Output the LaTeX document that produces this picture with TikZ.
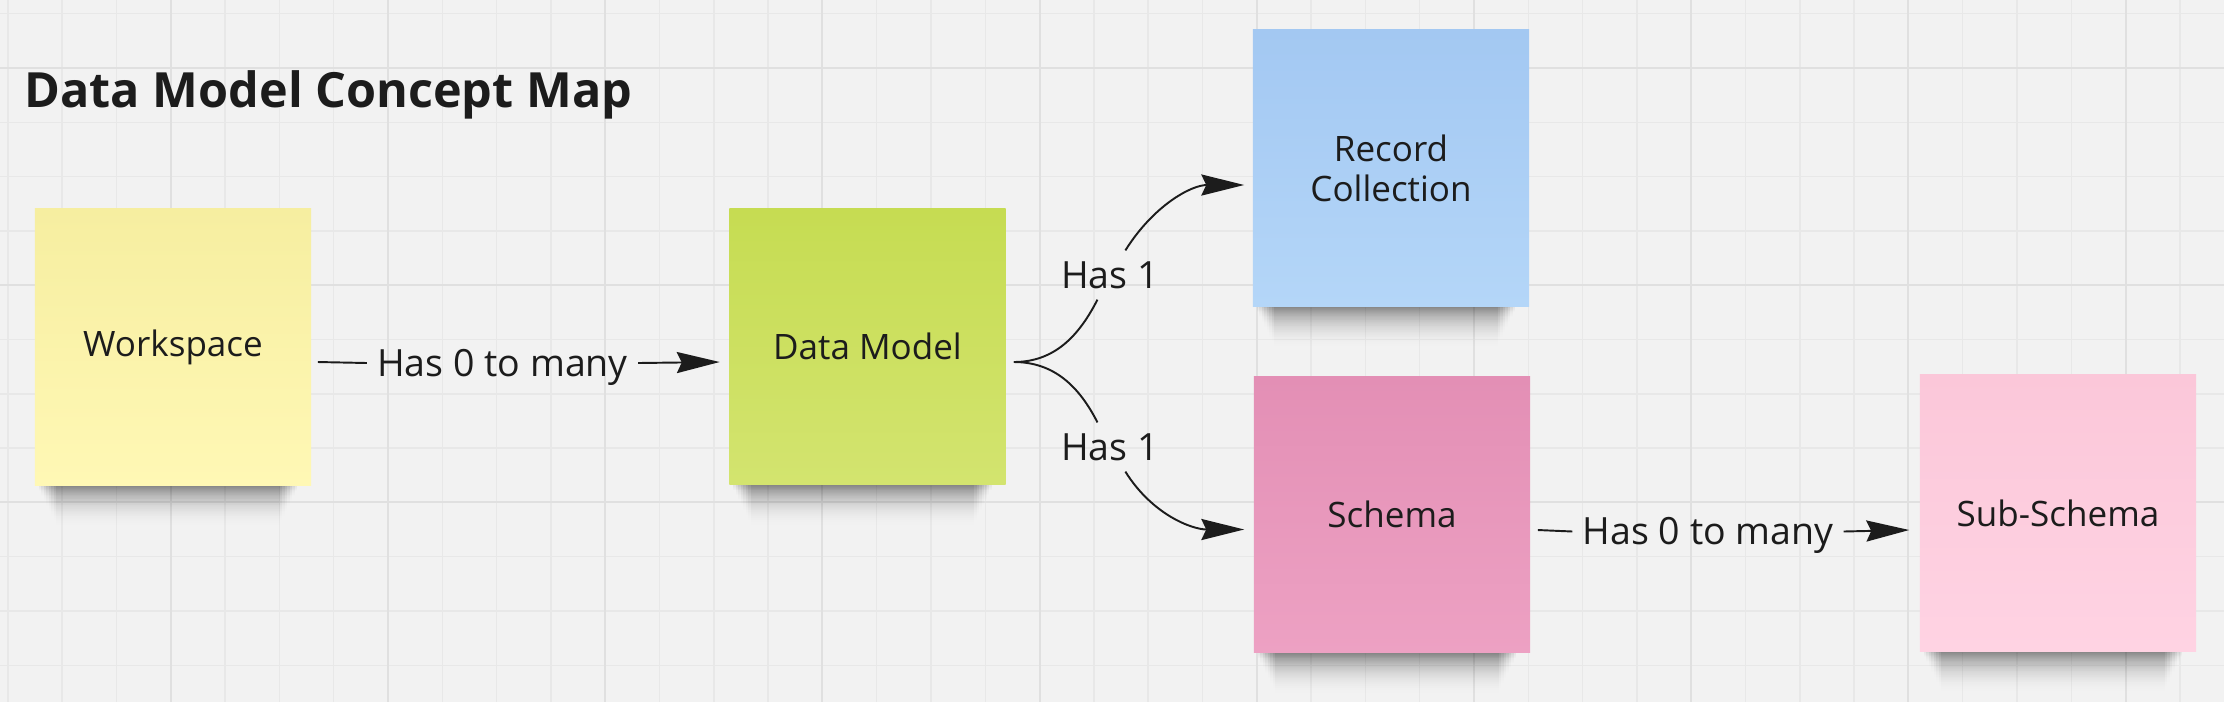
\documentclass[tikz,border=0pt]{standalone}
\usepackage{fontspec}
\setmainfont{Open Sans}
\usepackage{tikz}
\usetikzlibrary{arrows.meta, calc, positioning, fadings}
\definecolor{boardBg}{HTML}{F2F2F2}
\definecolor{gridMinor}{HTML}{E8E8E8}
\definecolor{gridMajor}{HTML}{E0E0E0}
\definecolor{inkBlack}{HTML}{1C1C1C}
\definecolor{yellowTop}{HTML}{F6EEA0}
\definecolor{yellowBot}{HTML}{FFF8B5}
\definecolor{limeTop}{HTML}{C6DC52}
\definecolor{limeBot}{HTML}{D3E46F}
\definecolor{blueTop}{HTML}{A3C8F2}
\definecolor{blueBot}{HTML}{B4D6F8}
\definecolor{pinkTop}{HTML}{E38FB5}
\definecolor{pinkBot}{HTML}{EDA1C3}
\definecolor{roseTop}{HTML}{FBC7D9}
\definecolor{roseBot}{HTML}{FFD3E3}
\pgfdeclarelayer{back}
\pgfsetlayers{back,main}

\begin{document}
\begin{tikzpicture}[x=0.01cm, y=-0.01cm,
    sticky/.style={minimum width=2.76cm, minimum height=2.76cm, inner sep=0pt, align=center,
      text=inkBlack, font=\fontsize{9.96pt}{11.4pt}\selectfont},
    lbl/.style={text=inkBlack, font=\fontsize{10.67pt}{12pt}\selectfont,
      text height=7.6pt, text depth=0pt, inner xsep=2.7pt, inner ysep=3pt},
    link/.style={line width=0.55pt, inkBlack},
    arr/.style={link, -{Stealth[length=12.2pt, width=6pt, inset=1.4pt]}}]
    \useasboundingbox (0,0) rectangle (2224,702);

    % board with its grid
    \begin{pgfonlayer}{back}
        \fill[boardBg] (0,0) rectangle (2224,702);
        \foreach \k in {0,...,40} \draw[gridMinor, line width=0.42pt] ({7.9+54.3*\k},0) -- ++(0,702);
        \foreach \k in {0,...,12} \draw[gridMinor, line width=0.42pt] (0,{13.7+54.3*\k}) -- ++(2224,0);
        \foreach \k in {0,...,9} \draw[gridMajor, line width=0.55pt] ({170.8+217.2*\k},0) -- ++(0,702);
        \foreach \k in {0,...,2} \draw[gridMajor, line width=0.55pt] (0,{68+217.2*\k}) -- ++(2224,0);
    \end{pgfonlayer}

    \node[anchor=base west, inner sep=0pt, text=inkBlack, font=\fontsize{13.8pt}{16pt}\selectfont\bfseries]
        (title) at (24,107.7) {Data Model Concept Map};

    % sticky notes
    \node[sticky, top color=yellowTop, bottom color=yellowBot] (ws) at (173,347) {Workspace};
    \node[sticky, top color=limeTop, bottom color=limeBot] (dm) at (867.5,346.5) {Data Model};
    \node[sticky, top color=blueTop, bottom color=blueBot] (rc) at (1391,168) {Record\\Collection};
    \node[sticky, top color=pinkTop, bottom color=pinkBot] (sc) at (1392,514.5) {Schema};
    \node[sticky, top color=roseTop, bottom color=roseBot] (ss) at (2058,513) {Sub-Schema};

    % soft shadow under each note
    \begin{pgfonlayer}{back}
        \foreach \n in {ws,dm,rc,sc,ss}
            \foreach \i in {1,...,8}
                \fill[black, opacity=0.075, path fading=south]
                    ($(\n.south west)+({2+2.5*\i},-2)$) rectangle ($(\n.south east)+({-12-2.5*\i},{5*\i})$);
    \end{pgfonlayer}

    % labels on the connectors
    \node[lbl] (wsdm) at (502.5,363) {Has 0 to many};
    \node[lbl] (h1) at (1110,275) {Has 1};
    \node[lbl] (h2) at (1110,447) {Has 1};
    \node[lbl] (scss) at (1708,531.5) {Has 0 to many};

    % connectors
    \draw[link] ([shift={(6,15)}]ws.east) -- (wsdm.west);
    \draw[arr] (wsdm.east) -- ([shift={(-9,15.5)}]dm.west);

    \coordinate (fork) at ([shift={(7.5,15.5)}]dm.east);
    \draw[link] (fork) to[out=0, in=243] (h1.243);
    \draw[arr] (h1.58) to[out=58, in=180] ([shift={(-8,17)}]rc.west);
    \draw[link] (fork) to[out=0, in=117] (h2.117);
    \draw[arr] (h2.-58) to[out=-58, in=180] ([shift={(-9,15)}]sc.west);

    \draw[link] ([shift={(7,15.5)}]sc.east) -- (scss.west);
    \draw[arr] (scss.east) -- ([shift={(-10,17)}]ss.west);
\end{tikzpicture}
\end{document}
